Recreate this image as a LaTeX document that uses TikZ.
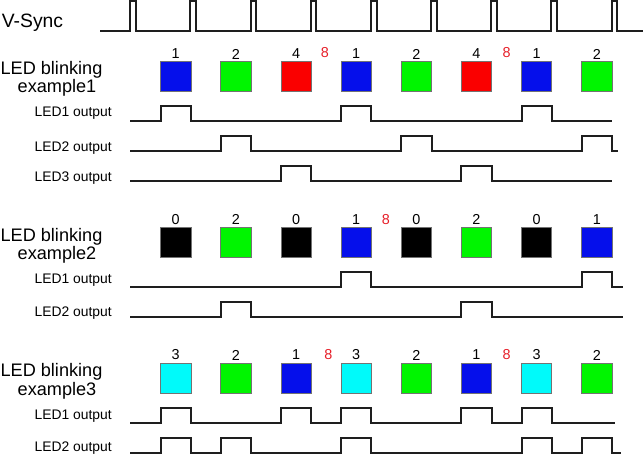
\documentclass[tikz,border=0pt]{standalone}
\usepackage{fontspec}
\setmainfont{Liberation Sans}
\definecolor{ledblue}{RGB}{5,15,235}
\definecolor{ledgreen}{RGB}{0,245,0}
\definecolor{ledred}{RGB}{250,0,0}
\definecolor{ledcyan}{RGB}{0,250,250}
\definecolor{ledoff}{RGB}{0,0,0}
\definecolor{redeight}{RGB}{230,30,40}
\definecolor{wavecol}{RGB}{30,30,30}
\begin{document}
\begin{tikzpicture}[x=0.75pt,y=-0.75pt,
  wave/.style={line width=1.5pt, draw=wavecol, line join=miter},
  led/.style={minimum size=22.7pt, inner sep=0pt, draw=black!55, line width=0.5pt},
  num/.style={font=\fontsize{10.8}{12}\selectfont, inner sep=0pt},
  eight/.style={num, text=redeight},
  title/.style={font=\fontsize{13.6}{16}\selectfont, inner sep=0pt},
  vtitle/.style={font=\fontsize{14.5}{16}\selectfont, inner sep=0pt},
  sig/.style={font=\fontsize{10.4}{12}\selectfont, anchor=east, inner sep=0pt}]
\useasboundingbox (0,0) rectangle (643,456);

% V-Sync
\node[vtitle] (vs) at (32.5,23) {V-Sync};
\draw[wave] (100,31) \foreach \k in {0,...,8} { -- ({130.3+60.15*\k},31) -- ++(0,-30) -- ++(5.7,0) -- ++(0,30) } -- (643,31);

% ---------- Example 1 ----------
\node[title] (t1a) at (51.5,70) {LED blinking};
\node[title] (t1b) at (57,88) {example1};
\foreach \c/\n [count=\k from 0] in {ledblue/1,ledgreen/2,ledred/4,ledblue/1,ledgreen/2,ledred/4,ledblue/1,ledgreen/2}{
  \node[led, fill=\c] (ea\k) at ({175.75+60.15*\k},76) {};
  \node[num] (na\k) at ({175.75+60.15*\k},54) {\n};
}
\node[eight] (ea8a) at (325,53) {8};
\node[eight] (ea8b) at (506.7,53) {8};

\node[sig] (s11) at (112,113) {LED1 output};
\node[sig] (s12) at (112,148) {LED2 output};
\node[sig] (s13) at (112,178) {LED3 output};
\draw[wave] (130,120.7) \foreach \k in {0,3,6} { -- ({160.6+60.15*\k},120.7) -- ++(0,-14.7) -- ++(30.3,0) -- ++(0,14.7) } -- (611.7,120.7);
\draw[wave] (130,151) \foreach \k in {1,4,7} { -- ({160.6+60.15*\k},151) -- ++(0,-15) -- ++(30.3,0) -- ++(0,15) } -- (617.5,151);
\draw[wave] (130,181) \foreach \k in {2,5} { -- ({160.6+60.15*\k},181) -- ++(0,-14.5) -- ++(30.3,0) -- ++(0,14.5) } -- (611.7,181);

% ---------- Example 2 ----------
\node[title] (t2a) at (51.5,236.7) {LED blinking};
\node[title] (t2b) at (57,255) {example2};
\foreach \c/\n [count=\k from 0] in {ledoff/0,ledgreen/2,ledoff/0,ledblue/1,ledoff/0,ledgreen/2,ledoff/0,ledblue/1}{
  \node[led, fill=\c] (eb\k) at ({175.75+60.15*\k},242) {};
  \node[num] (nb\k) at ({175.75+60.15*\k},219.5) {\n};
}
\node[eight] (eb8a) at (386,220) {8};

\node[sig] (s21) at (112,280) {LED1 output};
\node[sig] (s22) at (112,313.3) {LED2 output};
\draw[wave] (130,287.3) \foreach \k in {3,7} { -- ({160.6+60.15*\k},287.3) -- ++(0,-15.5) -- ++(30.3,0) -- ++(0,15.5) } -- (623,287.3);
\draw[wave] (130,316.7) \foreach \k in {1,5} { -- ({160.6+60.15*\k},316.7) -- ++(0,-15) -- ++(30.3,0) -- ++(0,15) } -- (623,316.7);

% ---------- Example 3 ----------
\node[title] (t3a) at (51.5,371.7) {LED blinking};
\node[title] (t3b) at (57,391) {example3};
\foreach \c/\n [count=\k from 0] in {ledcyan/3,ledgreen/2,ledblue/1,ledcyan/3,ledgreen/2,ledblue/1,ledcyan/3,ledgreen/2}{
  \node[led, fill=\c] (ec\k) at ({175.75+60.15*\k},378) {};
  \node[num] (nc\k) at ({175.75+60.15*\k},355) {\n};
}
\node[eight] (ec8a) at (328.3,355) {8};
\node[eight] (ec8b) at (506.7,355) {8};

\node[sig] (s31) at (112,416) {LED1 output};
\node[sig] (s32) at (112,448.3) {LED2 output};
\draw[wave] (130,422.7) \foreach \k in {0,2,3,5,6} { -- ({160.6+60.15*\k},422.7) -- ++(0,-15) -- ++(30.3,0) -- ++(0,15) } -- (615,422.7);
\draw[wave] (130,452.7) \foreach \k in {0,1,3,6,7} { -- ({160.6+60.15*\k},452.7) -- ++(0,-15) -- ++(30.3,0) -- ++(0,15) } -- (621,452.7);
\end{tikzpicture}
\end{document}
